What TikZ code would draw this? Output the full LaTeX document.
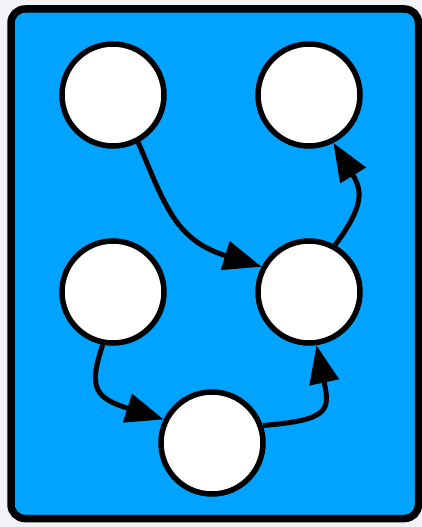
\documentclass[tikz,border=0pt]{standalone}
\usetikzlibrary{arrows.meta}
\definecolor{panelblue}{RGB}{0,163,255}
\definecolor{pagebg}{RGB}{242,243,246}
\begin{document}
\begin{tikzpicture}[x=1pt,y=1pt,
  vtx/.style={circle,draw=black,fill=white,line width=5.5pt,minimum size=102pt,inner sep=0pt},
  conn/.style={draw=black,line width=5pt,-{Triangle[length=38pt,width=29pt]}}]
\fill[pagebg] (0,0) rectangle (422,-527);
\useasboundingbox (0,0) rectangle (422,-527);
\draw[fill=panelblue,line width=7.5pt,rounded corners=14pt] (11,-9) rectangle (418.5,-518.5);
\node[vtx] (tl) at (113,-95) {};
\node[vtx] (tr) at (309,-95) {};
\node[vtx] (ml) at (113,-292) {};
\node[vtx] (mr) at (309,-292) {};
\node[vtx] (bt) at (212,-443) {};
\draw[conn] (tl.-62) .. controls (165,-205) and (175,-240) .. (mr.152);
\draw[conn] (mr.61) .. controls (365,-205) and (362,-190) .. (tr.-63);
\draw[conn] (ml.-101) .. controls (88,-388) and (95,-398) .. (bt.154);
\draw[conn] (bt.19) .. controls (330,-420) and (330,-410) .. (mr.-82);
\end{tikzpicture}
\end{document}
